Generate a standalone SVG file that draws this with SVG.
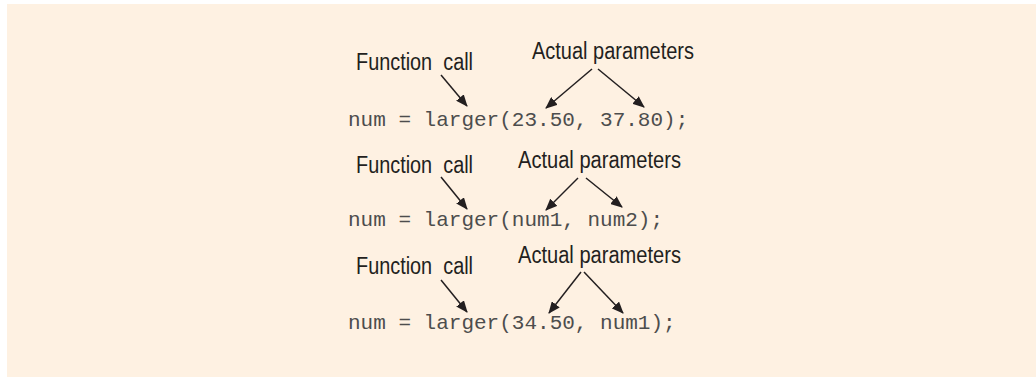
<svg xmlns="http://www.w3.org/2000/svg" width="1036" height="377" viewBox="0 0 1036 377">
<defs>
<style>
.bg{fill:#fef1e2}
.lbl{font-family:"Liberation Sans",Arial,sans-serif;font-size:23px;fill:#231f20}
.code{font-family:"Liberation Mono","Courier New",monospace;font-size:21px;fill:#4d4d4d}
.arr{stroke:#231f20;stroke-width:1.5;fill:none;marker-end:url(#ah)}
</style>
<marker id="ah" viewBox="0 0 12 10" refX="11" refY="5" markerWidth="12" markerHeight="10" markerUnits="userSpaceOnUse" orient="auto">
<path d="M0,0 L12,5 L0,10 Z" fill="#231f20"/>
</marker>
</defs>
<rect class="bg" x="7" y="4" width="1029" height="373"/>
<g id="connectors">
<line class="arr" x1="441" y1="75" x2="467" y2="106"/>
<line class="arr" x1="592" y1="69" x2="546" y2="108"/>
<line class="arr" x1="598" y1="69" x2="644" y2="107"/>
<line class="arr" x1="441" y1="177" x2="467" y2="209"/>
<line class="arr" x1="578" y1="178" x2="546" y2="210"/>
<line class="arr" x1="586" y1="178" x2="622" y2="207"/>
<line class="arr" x1="441" y1="280" x2="467" y2="312"/>
<line class="arr" x1="581" y1="272" x2="549" y2="313"/>
<line class="arr" x1="584" y1="272" x2="623" y2="313"/>
</g>
<g id="example1">
<text class="lbl" x="356" y="70" textLength="117" lengthAdjust="spacingAndGlyphs" xml:space="preserve">Function  call</text>
<text class="lbl" x="532" y="59" textLength="162" lengthAdjust="spacingAndGlyphs">Actual parameters</text>
<text class="code" x="348" y="126" xml:space="preserve">num = larger(23.50, 37.80);</text>
</g>
<g id="example2">
<text class="lbl" x="356" y="173" textLength="117" lengthAdjust="spacingAndGlyphs" xml:space="preserve">Function  call</text>
<text class="lbl" x="518" y="168" textLength="163" lengthAdjust="spacingAndGlyphs">Actual parameters</text>
<text class="code" x="348" y="226" xml:space="preserve">num = larger(num1, num2);</text>
</g>
<g id="example3">
<text class="lbl" x="356" y="274" textLength="117" lengthAdjust="spacingAndGlyphs" xml:space="preserve">Function  call</text>
<text class="lbl" x="518" y="263" textLength="163" lengthAdjust="spacingAndGlyphs">Actual parameters</text>
<text class="code" x="348" y="329" xml:space="preserve">num = larger(34.50, num1);</text>
</g>
</svg>
